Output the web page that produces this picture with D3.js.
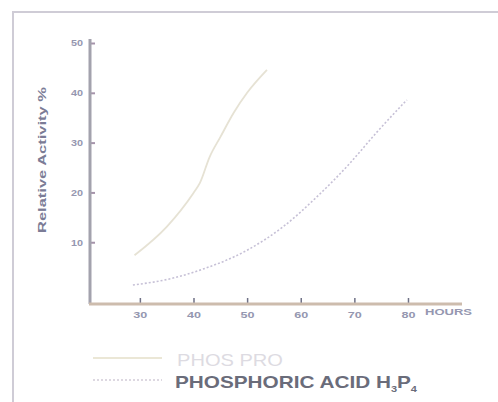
<!DOCTYPE html>
<html>
<head>
<meta charset="utf-8">
<script src="https://cdn.jsdelivr.net/npm/d3@7"></script>
<style>
  body { margin: 0; background: #fff; }
  svg { display: block; }
  .tick text { font-family: "Liberation Sans", Arial, sans-serif; font-size: 9px; font-weight: bold; fill: #9597b0; }
</style>
</head>
<body>
<svg width="498" height="402"></svg>
<script>
// data
var xTicks = [30, 40, 50, 60, 70, 80];
var yTicks = [10, 20, 30, 40, 50];

var phosProHours = [29, 35, 40, 41.2, 43, 45, 47.5, 50, 53.7];
var phosProAct   = [7.4, 13.1, 19.9, 21.9, 27.1, 31.1, 36.0, 40.0, 44.6];

var acidHours = [28.7, 36.2, 41.2, 50, 56.7, 63, 69.2, 74.2, 79.8];
var acidAct   = [1.4, 2.8, 4.4, 8.4, 13.1, 19.1, 25.9, 32.1, 38.6];

var svg = d3.select("svg");

// faint frame of the scan
svg.append("path")
    .attr("d", "M13,402 L13,12 L498,12")
    .attr("fill", "none")
    .attr("stroke", "#cfccd6")
    .attr("stroke-width", 2);

var x = d3.scaleLinear().domain([20.7, 89.7]).range([90, 460]);
var y = d3.scaleLinear().domain([-2.2, 50]).range([303, 43]);

var line = d3.line()
    .x(function(d) { return x(d[0]); })
    .y(function(d) { return y(d[1]); })
    .curve(d3.curveMonotoneX);

var phosPro = phosProHours.map(function(h, i) { return [h, phosProAct[i]]; });
var acid = acidHours.map(function(h, i) { return [h, acidAct[i]]; });

// y axis
var yAxis = svg.append("g")
    .attr("transform", "translate(90,0)")
    .call(d3.axisRight(y).tickValues(yTicks).tickSize(5));
yAxis.select(".domain").remove();
yAxis.selectAll(".tick line").attr("stroke", "#a593aa").attr("stroke-width", 2);
yAxis.selectAll(".tick text").attr("text-anchor", "end").attr("x", -7)
    .attr("textLength", 12).attr("lengthAdjust", "spacingAndGlyphs");

svg.append("line")
    .attr("x1", 90).attr("x2", 90)
    .attr("y1", 39).attr("y2", 304)
    .attr("stroke", "#a3a2ad").attr("stroke-width", 3);

// x axis
var xAxis = svg.append("g")
    .attr("transform", "translate(0,303)")
    .call(d3.axisTop(x).tickValues(xTicks).tickSize(5));
xAxis.select(".domain").remove();
xAxis.selectAll(".tick line").attr("stroke", "#6f7186").attr("stroke-width", 1.5);
xAxis.selectAll(".tick text").attr("y", 9).attr("dy", "0.71em")
    .attr("textLength", 14).attr("lengthAdjust", "spacingAndGlyphs");

svg.append("line")
    .attr("x1", 89).attr("x2", 462)
    .attr("y1", 304).attr("y2", 304)
    .attr("stroke", "#cdbcad").attr("stroke-width", 3);

svg.append("text")
    .attr("x", 425).attr("y", 315)
    .attr("font-family", "Liberation Sans, Arial, sans-serif")
    .attr("font-size", 9)
    .attr("font-weight", "bold")
    .attr("textLength", 47)
    .attr("lengthAdjust", "spacingAndGlyphs")
    .attr("fill", "#9597b0")
    .text("HOURS");

// y label
svg.append("text")
    .attr("transform", "translate(46,160) rotate(-90)")
    .attr("text-anchor", "middle")
    .attr("font-family", "Liberation Sans, Arial, sans-serif")
    .attr("font-size", 10)
    .attr("font-weight", "bold")
    .attr("textLength", 146)
    .attr("lengthAdjust", "spacingAndGlyphs")
    .attr("fill", "#7b7c96")
    .text("Relative Activity %");

// curves
svg.append("path")
    .datum(phosPro)
    .attr("d", line)
    .attr("fill", "none")
    .attr("stroke", "#e6e2d4")
    .attr("stroke-width", 1.8);

svg.append("path")
    .datum(acid)
    .attr("d", line)
    .attr("fill", "none")
    .attr("stroke", "#c6c0d6")
    .attr("stroke-width", 1.6)
    .attr("stroke-dasharray", "2,2");

// legend
svg.append("line")
    .attr("x1", 93).attr("x2", 162)
    .attr("y1", 358).attr("y2", 358)
    .attr("stroke", "#ebe7d6").attr("stroke-width", 2);
svg.append("text")
    .attr("x", 177).attr("y", 366)
    .attr("font-family", "Liberation Sans, Arial, sans-serif")
    .attr("font-size", 17)
    .attr("textLength", 106)
    .attr("lengthAdjust", "spacingAndGlyphs")
    .attr("fill", "#dddbe2")
    .text("PHOS PRO");

svg.append("line")
    .attr("x1", 93).attr("x2", 162)
    .attr("y1", 380).attr("y2", 380)
    .attr("stroke", "#d2ccd8").attr("stroke-width", 1.6)
    .attr("stroke-dasharray", "2,2");
var t = svg.append("text")
    .attr("x", 175).attr("y", 388)
    .attr("font-family", "Liberation Sans, Arial, sans-serif")
    .attr("font-size", 17)
    .attr("font-weight", "bold")
    .attr("textLength", 242)
    .attr("lengthAdjust", "spacingAndGlyphs")
    .attr("fill", "#6a6c7a")
    .text("PHOSPHORIC ACID H");
t.append("tspan").attr("font-size", 9).attr("dy", 4).text("3");
t.append("tspan").attr("dy", -4).text("P");
t.append("tspan").attr("font-size", 9).attr("dy", 4).text("4");
</script>
</body>
</html>
